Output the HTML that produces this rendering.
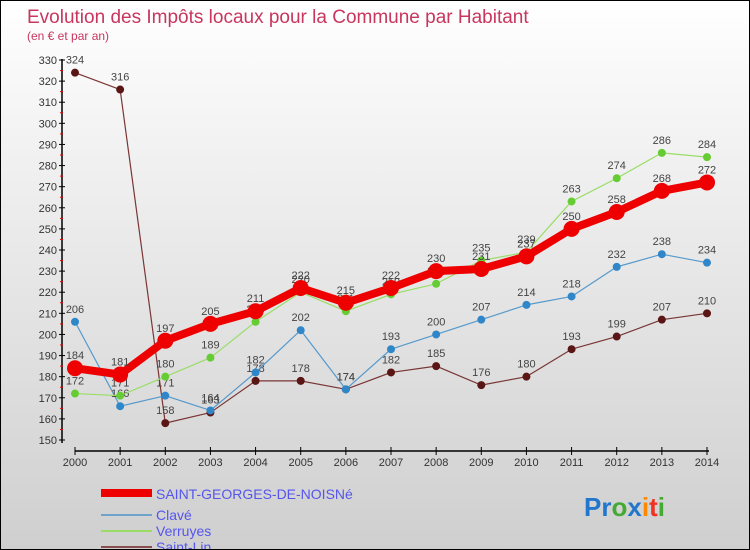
<!DOCTYPE html>
<html><head><meta charset="utf-8"><style>
body{margin:0}
#c{width:748px;height:548px;border:1px solid #000;background:linear-gradient(#ffffff,#f0f0f0 30%,#cfcfcf);position:relative;overflow:hidden;font-family:"Liberation Sans",sans-serif}
</style></head><body>
<div id="c">
<svg id="s" width="748" height="548"></svg>
</div>
<script>
const years=[2000,2001,2002,2003,2004,2005,2006,2007,2008,2009,2010,2011,2012,2013,2014];
const sgn=[184,181,197,205,211,222,215,222,230,231,237,250,258,268,272];
const clave=[206,166,171,164,182,202,174,193,200,207,214,218,232,238,234];
const verruyes=[172,171,180,189,206,220,211,219,224,235,239,263,274,286,284];
const saintlin=[324,316,158,163,178,178,174,182,185,176,180,193,199,207,210];
const yTicks=[150,160,170,180,190,200,210,220,230,240,250,260,270,280,290,300,310,320,330];
const NS="http://www.w3.org/2000/svg";
const s=document.getElementById('s');
const X=i=>74+i*(632/14);
const Y=v=>439-(v-150)*(380/180);
function mk(t,a,p){const e=document.createElementNS(NS,t);for(const k in a)e.setAttribute(k,a[k]);(p||s).appendChild(e);return e;}
let t=mk('text',{x:26,y:22,fill:'#c8365e','font-size':19});t.textContent='Evolution des Impôts locaux pour la Commune par Habitant';


t=mk('text',{x:26,y:39,fill:'#c8365e','font-size':12});t.textContent='(en € et par an)';


let ax=mk('line',{x1:61,y1:58,x2:61,y2:442,stroke:'#000','stroke-width':1.5});


yTicks.forEach(v=>{
 mk('line',{x1:58,x2:64,y1:Y(v),y2:Y(v),stroke:'#000'});
 if(v<330)mk('line',{x1:59,x2:62,y1:Y(v+5),y2:Y(v+5),stroke:'#e00'});
 const l=mk('text',{x:56,y:Y(v)+4,'text-anchor':'end','font-size':11,fill:'#333'});l.textContent=v;
 
 
});
let xa=mk('line',{x1:74,y1:450,x2:708,y2:450,stroke:'#000','stroke-width':1.5});


years.forEach((y,i)=>{
 mk('line',{x1:X(i),x2:X(i),y1:446,y2:454,stroke:'#000'});
 const l=mk('text',{x:X(i),y:465,'text-anchor':'middle','font-size':11,fill:'#333'});l.textContent=y;
 
 
});
function series(d,col,dot,w,r,name){
 const g=mk('g',{});
 
 
 mk('polyline',{points:d.map((v,i)=>X(i)+','+Y(v)).join(' '),fill:'none',stroke:col,'stroke-width':w,'stroke-linejoin':'round'},g);
 d.forEach((v,i)=>{
  const c=mk('circle',{cx:X(i),cy:Y(v),r:r,fill:dot},g);
  
  
  const l=mk('text',{x:X(i),y:Y(v)-9,'text-anchor':'middle','font-size':11,fill:'#444'},g);l.textContent=v;
 });
}
series(saintlin,'#7a3535','#5a1515',1.2,4,'series-saint-lin');
series(clave,'#5599cc','#2f86c8',1.2,4,'series-clave');
series(verruyes,'#99dd66','#66cc33',1.2,4,'series-verruyes');
series(sgn,'#ee0000','#ee0000',8,8,'series-saint-georges');
const leg=[['SAINT-GEORGES-DE-NOISNé','#ee0000',8],['Clavé','#6fa3cc',2],['Verruyes','#99dd66',2],['Saint-Lin','#8a4e4e',2]];
leg.forEach((e,i)=>{
 const g=mk('g',{});
 
 
 const yy=492+i*16;
 mk('line',{x1:100,x2:151,y1:yy+(i?6:0),y2:yy+(i?6:0),stroke:e[1],'stroke-width':e[2]},g);
 const l=mk('text',{x:155,y:yy+(i?11:6),'font-size':14,fill:'#5555ee'},g);l.textContent=e[0];
});
const p=mk('text',{x:583,y:515,'font-size':26,'font-weight':'bold','font-family':'Liberation Sans, sans-serif'});


[['P','#2277cc'],['r','#2277cc'],['o','#44aa33'],['x','#2277cc'],['i','#ff8800'],['t','#ee3322'],['i','#44aa33']].forEach(c=>{const ts=mk('tspan',{fill:c[1]},p);ts.textContent=c[0];});
</script>
</body></html>
